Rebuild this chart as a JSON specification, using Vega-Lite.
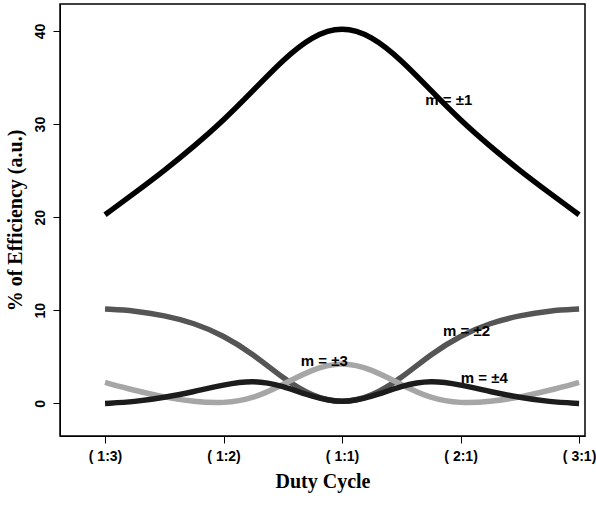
{
  "$schema": "https://vega.github.io/schema/vega-lite/v6.json",
  "width": 525,
  "height": 432,
  "padding": {"left": 5, "top": 4, "right": 8, "bottom": 4},
  "background": "white",
  "datasets": {
    "curves": [
      {"t":0,"e":20.26,"m":"1"},{"t":0.25,"e":22.6,"m":"1"},{"t":0.5,"e":25.0,"m":"1"},{"t":0.75,"e":27.6,"m":"1"},{"t":1,"e":30.40,"m":"1"},{"t":1.25,"e":33.6,"m":"1"},{"t":1.5,"e":36.9,"m":"1"},{"t":1.75,"e":39.5,"m":"1"},{"t":2,"e":40.53,"m":"1"},{"t":2.25,"e":39.5,"m":"1"},{"t":2.5,"e":36.9,"m":"1"},{"t":2.75,"e":33.6,"m":"1"},{"t":3,"e":30.40,"m":"1"},{"t":3.25,"e":27.6,"m":"1"},{"t":3.5,"e":25.0,"m":"1"},{"t":3.75,"e":22.6,"m":"1"},{"t":4,"e":20.26,"m":"1"},
      {"t":0,"e":10.13,"m":"2"},{"t":0.25,"e":9.96,"m":"2"},{"t":0.5,"e":9.45,"m":"2"},{"t":0.75,"e":8.65,"m":"2"},{"t":1,"e":7.30,"m":"2"},{"t":1.25,"e":5.3,"m":"2"},{"t":1.5,"e":2.7,"m":"2"},{"t":1.75,"e":0.7,"m":"2"},{"t":2,"e":0,"m":"2"},{"t":2.25,"e":0.7,"m":"2"},{"t":2.5,"e":2.7,"m":"2"},{"t":2.75,"e":5.3,"m":"2"},{"t":3,"e":7.30,"m":"2"},{"t":3.25,"e":8.65,"m":"2"},{"t":3.5,"e":9.45,"m":"2"},{"t":3.75,"e":9.96,"m":"2"},{"t":4,"e":10.13,"m":"2"},
      {"t":0,"e":2.25,"m":"3"},{"t":0.25,"e":1.39,"m":"3"},{"t":0.5,"e":0.66,"m":"3"},{"t":0.75,"e":0.17,"m":"3"},{"t":1,"e":0,"m":"3"},{"t":1.25,"e":0.5,"m":"3"},{"t":1.5,"e":2.0,"m":"3"},{"t":1.75,"e":3.7,"m":"3"},{"t":2,"e":4.50,"m":"3"},{"t":2.25,"e":3.7,"m":"3"},{"t":2.5,"e":2.0,"m":"3"},{"t":2.75,"e":0.5,"m":"3"},{"t":3,"e":0,"m":"3"},{"t":3.25,"e":0.17,"m":"3"},{"t":3.5,"e":0.66,"m":"3"},{"t":3.75,"e":1.39,"m":"3"},{"t":4,"e":2.25,"m":"3"},
      {"t":0,"e":0,"m":"4"},{"t":0.25,"e":0.17,"m":"4"},{"t":0.5,"e":0.63,"m":"4"},{"t":0.75,"e":1.27,"m":"4"},{"t":1,"e":2.0,"m":"4"},{"t":1.25,"e":2.5,"m":"4"},{"t":1.5,"e":1.9,"m":"4"},{"t":1.75,"e":0.7,"m":"4"},{"t":2,"e":0,"m":"4"},{"t":2.25,"e":0.7,"m":"4"},{"t":2.5,"e":1.9,"m":"4"},{"t":2.75,"e":2.5,"m":"4"},{"t":3,"e":2.0,"m":"4"},{"t":3.25,"e":1.27,"m":"4"},{"t":3.5,"e":0.63,"m":"4"},{"t":3.75,"e":0.17,"m":"4"},{"t":4,"e":0,"m":"4"}
    ],
    "labels": [
      {"t":2.9,"e":32.6,"text":"m = ±1"},
      {"t":3.05,"e":7.8,"text":"m = ±2"},
      {"t":1.85,"e":4.6,"text":"m = ±3"},
      {"t":3.2,"e":2.7,"text":"m = ±4"}
    ]
  },
  "layer": [
    {
      "data": {"name": "curves"},
      "mark": {"type": "line", "strokeWidth": 5.5, "interpolate": "basis"},
      "encoding": {
        "x": {
          "field": "t", "type": "quantitative",
          "scale": {"domain": [-0.38, 4.05], "nice": false, "zero": false},
          "axis": {
            "title": "Duty Cycle", "values": [0, 1, 2, 3, 4],
            "labelExpr": "['( 1:3)','( 1:2)','( 1:1)','( 2:1)','( 3:1)'][datum.value]",
            "grid": false
          }
        },
        "y": {
          "field": "e", "type": "quantitative",
          "scale": {"domain": [-3.5, 42.9], "nice": false, "zero": false},
          "axis": {
            "title": "% of Efficiency (a.u.)", "values": [0, 10, 20, 30, 40],
            "labelAngle": -90, "labelAlign": "center", "labelBaseline": "bottom",
            "grid": false
          }
        },
        "color": {
          "field": "m", "type": "nominal", "legend": null,
          "scale": {"domain": ["1", "2", "3", "4"], "range": ["#000000", "#555555", "#a6a6a6", "#1c1c1c"]}
        },
        "order": {"field": "t"}
      }
    },
    {
      "data": {"name": "labels"},
      "mark": {"type": "text", "font": "Liberation Sans", "fontWeight": "bold", "fontSize": 15, "align": "center"},
      "encoding": {
        "x": {"field": "t", "type": "quantitative"},
        "y": {"field": "e", "type": "quantitative"},
        "text": {"field": "text"}
      }
    }
  ],
  "config": {
    "view": {"stroke": "black", "strokeWidth": 1.5},
    "axis": {
      "domainColor": "black", "tickColor": "black", "labelColor": "black", "titleColor": "black",
      "labelFont": "Liberation Sans", "labelFontWeight": "bold", "labelFontSize": 14,
      "titleFont": "Liberation Serif", "titleFontWeight": "bold", "titleFontSize": 20,
      "tickSize": 7, "labelPadding": 6, "titlePadding": 8
    }
  }
}
